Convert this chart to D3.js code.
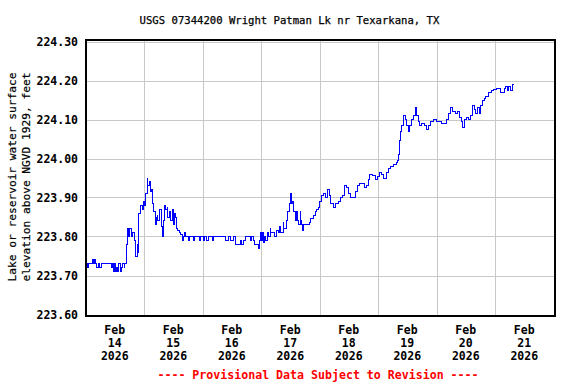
<!DOCTYPE html>
<html>
<head>
<meta charset="utf-8">
<script src="https://cdn.jsdelivr.net/npm/d3@7"></script>
<style>
  html, body { margin: 0; padding: 0; background: #fff; }
  svg { display: block; }
</style>
</head>
<body>
<svg id="chart" width="576" height="384"></svg>
<script>
// ---- Data ----
const titleText = "USGS 07344200 Wright Patman Lk nr Texarkana, TX";
const yLabelLines = ["Lake or reservoir water surface", "elevation above NGVD 1929, feet"];
const footerText = "---- Provisional Data Subject to Revision ----";
const startDate = Date.UTC(2026, 1, 14, 0, 0);
const endDate = Date.UTC(2026, 1, 22, 0, 0);
const yTicks = [223.60, 223.70, 223.80, 223.90, 224.00, 224.10, 224.20, 224.30];
const dayLabels = ["14", "15", "16", "17", "18", "19", "20", "21"];
// hours since Feb 14 2026 00:00
const hours = [
  0, 1.0, 1.4, 2.3, 2.7, 3.1, 3.5, 4.3, 4.7, 5.5, 5.9, 6.4, 8.0, 10.1, 10.5, 10.9, 11.3, 11.7, 12.1, 12.5,
  12.9, 13.3, 13.7, 14.2, 14.6, 15.0, 15.8, 16.2, 16.8, 17.0, 17.4, 17.8, 18.1, 18.7, 19.1, 19.9, 20.6, 21.3, 21.5, 21.9,
  22.6, 23.2, 23.7, 24.2, 24.7, 25.4, 25.6, 26.1, 26.7, 27.1, 27.4, 28.1, 28.8, 29.1, 29.5, 29.7, 30.2, 30.6, 31.1, 31.7,
  32.2, 32.5, 33.0, 33.6, 33.8, 34.3, 34.7, 35.2, 35.5, 36.0, 36.5, 37.0, 37.3, 37.7, 38.4, 39.1, 39.6, 40.0, 40.8, 41.2,
  42.1, 42.5, 44.1, 44.5, 44.9, 46.2, 46.6, 47.0, 48.2, 48.6, 49.0, 49.8, 50.3, 51.9, 52.3, 52.7, 53.9, 55.2, 57.2, 57.6,
  58.5, 59.3, 60.1, 60.9, 61.7, 62.6, 63.4, 64.2, 65.0, 65.8, 66.7, 67.5, 68.3, 69.1, 69.5, 70.4, 70.9, 71.2, 71.6, 72.0,
  72.4, 72.8, 73.2, 73.6, 74.0, 74.5, 74.9, 75.7, 76.1, 77.0, 77.7, 78.4, 79.0, 79.5, 79.8, 80.2, 81.2, 81.4, 82.3, 82.8,
  83.5, 84.2, 84.6, 84.9, 85.5, 86.1, 86.6, 87.0, 87.3, 88.0, 88.4, 88.7, 89.1, 89.4, 89.8, 90.8, 91.8, 92.4, 93.5, 94.2,
  94.9, 95.5, 96.2, 96.9, 97.6, 98.3, 99.2, 100.0, 100.7, 101.7, 102.5, 103.7, 104.7, 105.5, 106.1, 107.2, 107.8, 108.8, 109.9, 110.7,
  111.5, 112.6, 113.7, 114.4, 115.0, 115.4, 116.0, 116.7, 117.8, 118.8, 119.7, 120.8, 121.5, 122.2, 123.3, 124.2, 125.2, 126.3, 127.4, 128.1,
  128.6, 129.0, 129.4, 129.7, 130.4, 131.1, 131.8, 132.4, 133.1, 133.8, 134.5, 135.2, 135.9, 136.5, 137.2, 137.9, 138.9, 139.7, 140.6, 141.6,
  142.7, 143.8, 144.7, 146.1, 147.9, 148.8, 149.8, 150.6, 151.6, 152.5, 153.4, 154.1, 154.8, 155.4, 156.4, 157.3, 158.0, 158.9, 159.5, 160.2,
  160.9, 161.6, 162.1, 162.8, 163.5, 164.3, 165.3, 166.4, 167.3, 168.7, 169.8, 170.3, 171.2, 171.8, 172.5, 173.1, 173.7, 174.4, 175.1, 175.8
];
const elevation = [
  223.73, 223.72, 223.73, 223.73, 223.74, 223.73, 223.74, 223.73, 223.72, 223.73, 223.72, 223.73, 223.73, 223.73, 223.72, 223.73, 223.71, 223.72, 223.73, 223.71,
  223.72, 223.71, 223.73, 223.71, 223.72, 223.73, 223.72, 223.73, 223.73, 223.78, 223.82, 223.80, 223.82, 223.80, 223.81, 223.79, 223.75, 223.78, 223.76, 223.86,
  223.88, 223.87, 223.89, 223.88, 223.91, 223.95, 223.93, 223.94, 223.915, 223.92, 223.885, 223.865, 223.83, 223.85, 223.855, 223.84, 223.87, 223.87, 223.825, 223.80,
  223.84, 223.88, 223.87, 223.875, 223.85, 223.865, 223.84, 223.84, 223.87, 223.83, 223.86, 223.85, 223.82, 223.815, 223.81, 223.805, 223.79, 223.80, 223.81, 223.80,
  223.79, 223.80, 223.80, 223.79, 223.80, 223.80, 223.79, 223.80, 223.80, 223.79, 223.80, 223.79, 223.80, 223.80, 223.79, 223.80, 223.80, 223.80, 223.80, 223.79,
  223.80, 223.79, 223.79, 223.80, 223.78, 223.78, 223.79, 223.78, 223.79, 223.80, 223.80, 223.79, 223.80, 223.79, 223.78, 223.78, 223.77, 223.79, 223.81, 223.80,
  223.79, 223.81, 223.785, 223.80, 223.79, 223.81, 223.80, 223.82, 223.81, 223.81, 223.80, 223.815, 223.81, 223.825, 223.825, 223.81, 223.835, 223.82, 223.84, 223.865,
  223.885, 223.91, 223.885, 223.89, 223.865, 223.84, 223.865, 223.84, 223.83, 223.865, 223.84, 223.83, 223.815, 223.83, 223.83, 223.83, 223.835, 223.845, 223.855, 223.865,
  223.87, 223.875, 223.89, 223.905, 223.91, 223.90, 223.92, 223.905, 223.885, 223.875, 223.885, 223.89, 223.90, 223.905, 223.93, 223.925, 223.91, 223.90, 223.90, 223.915,
  223.93, 223.935, 223.935, 223.925, 223.925, 223.93, 223.945, 223.96, 223.957, 223.945, 223.955, 223.965, 223.96, 223.95, 223.965, 223.975, 223.98, 223.985, 223.99, 223.995,
  224.01, 224.045, 224.07, 224.085, 224.11, 224.10, 224.085, 224.07, 224.085, 224.10, 224.11, 224.13, 224.11, 224.095, 224.085, 224.09, 224.085, 224.075, 224.085, 224.095,
  224.10, 224.095, 224.095, 224.09, 224.10, 224.115, 224.13, 224.12, 224.115, 224.12, 224.105, 224.095, 224.08, 224.10, 224.105, 224.10, 224.11, 224.135, 224.125, 224.115,
  224.13, 224.115, 224.135, 224.15, 224.155, 224.16, 224.17, 224.175, 224.178, 224.18, 224.18, 224.17, 224.17, 224.18, 224.185, 224.175, 224.185, 224.175, 224.19, 224.19
];

// ---- Layout ----
const svg = d3.select("#chart");
const frame = { left: 85.5, right: 554.5, top: 39.5, bottom: 315.5 };
const x = d3.scaleUtc().domain([startDate, endDate]).range([85.5, 553.5]);
const y = d3.scaleLinear().domain([223.60, 224.30]).range([314.5, 41.5]);
const mono = "'DejaVu Sans Mono', 'Liberation Mono', monospace";

// gridlines
const midnights = d3.utcDay.range(new Date(startDate + 3600e3), new Date(endDate));
svg.append("g").attr("shape-rendering", "crispEdges").selectAll("line").data(midnights).join("line")
  .attr("x1", d => Math.round(x(d)) + 0.5).attr("x2", d => Math.round(x(d)) + 0.5)
  .attr("y1", frame.top).attr("y2", frame.bottom)
  .attr("stroke", "#c8c8c8").attr("stroke-width", 1);
svg.append("g").attr("shape-rendering", "crispEdges").selectAll("line").data(yTicks).join("line")
  .attr("x1", frame.left).attr("x2", frame.right)
  .attr("y1", d => Math.round(y(d)) + 0.5).attr("y2", d => Math.round(y(d)) + 0.5)
  .attr("stroke", "#c8c8c8").attr("stroke-width", 1);

// data line
const data = hours.map((h, i) => ({ t: new Date(startDate + h * 3600e3), v: elevation[i] }));
const line = d3.line().x(d => x(d.t)).y(d => y(d.v)).curve(d3.curveStepAfter);
svg.append("path").datum(data)
  .attr("d", line).attr("fill", "none")
  .attr("shape-rendering", "crispEdges")
  .attr("stroke", "#0000ff").attr("stroke-width", 1);

// frame
svg.append("rect")
  .attr("x", frame.left).attr("y", frame.top)
  .attr("width", frame.right - frame.left).attr("height", frame.bottom - frame.top)
  .attr("fill", "none").attr("stroke", "#000").attr("stroke-width", 2)
  .attr("shape-rendering", "crispEdges");

// y tick labels
svg.append("g").selectAll("text").data(yTicks).join("text")
  .attr("x", 78).attr("y", d => y(d) + 4)
  .attr("text-anchor", "end")
  .attr("font-family", mono).attr("font-weight", "bold").attr("font-size", "11.5px")
  .text(d => d.toFixed(2));

// x tick labels (at noon of each day)
const noons = dayLabels.map((dd, i) => ({ t: new Date(startDate + (i * 24 + 12) * 3600e3), day: dd }));
const xl = svg.append("g").selectAll("text").data(noons).join("text")
  .attr("text-anchor", "middle")
  .attr("font-family", mono).attr("font-weight", "bold").attr("font-size", "11.5px");
xl.each(function(d) {
  const t = d3.select(this);
  const cx = x(d.t);
  ["Feb", d.day, "2026"].forEach((s, k) => {
    t.append("tspan").attr("x", cx).attr("y", 334 + k * 13).text(s);
  });
});

// title
svg.append("text")
  .attr("x", 289.5).attr("y", 24)
  .attr("text-anchor", "middle")
  .attr("font-family", mono).attr("font-size", "10.6px")
  .attr("stroke", "#000").attr("stroke-width", 0.25)
  .text(titleText);

// y axis label
const yl = svg.append("text")
  .attr("transform", "translate(0,177) rotate(-90)")
  .attr("text-anchor", "middle")
  .attr("font-family", mono).attr("font-size", "11.2px")
  .attr("stroke", "#000").attr("stroke-width", 0.2);
yLabelLines.forEach((s, k) => {
  yl.append("tspan").attr("x", 0).attr("y", 16 + k * 14).text(s);
});

// footer
svg.append("text")
  .attr("x", 318).attr("y", 378.5)
  .attr("text-anchor", "middle")
  .attr("font-family", mono).attr("font-weight", "bold").attr("font-size", "11.6px")
  .attr("fill", "#ff0000")
  .text(footerText);
</script>
</body>
</html>
